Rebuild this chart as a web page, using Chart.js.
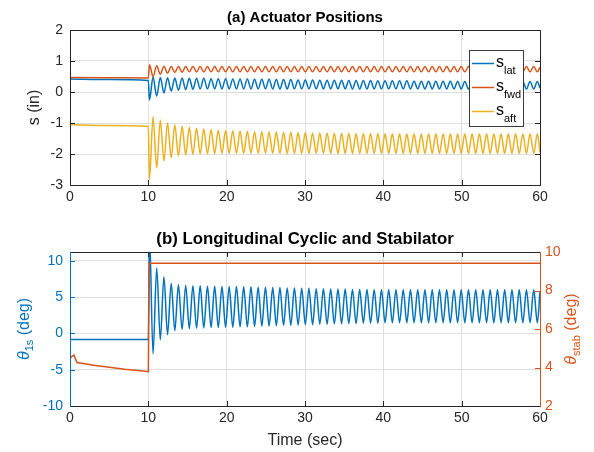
<!DOCTYPE html>
<html><head><meta charset="utf-8">
<script src="https://cdn.jsdelivr.net/npm/chart.js@4.4.1/dist/chart.umd.min.js"></script>
<style>
html,body{margin:0;padding:0;background:#fff;}
#wrap{position:relative;width:594px;height:452px;overflow:hidden;background:#fff;}
canvas{position:absolute;left:0;}
#c1{top:0;}
#c2{top:220px;}
</style></head><body>
<div id="wrap"><canvas id="c1" width="594" height="220"></canvas><canvas id="c2" width="594" height="232"></canvas></div>
<script>
// ---------- DATA ----------
const titleTop = '(a) Actuator Positions';
const titleBottom = '(b) Longitudinal Cyclic and Stabilator';
const xTitle = 'Time (sec)';
const yTitleTop = 's (in)';
const topNames = ['s_lat', 's_fwd', 's_aft'];
const xTicks = [0, 10, 20, 30, 40, 50, 60];
const yTicksTop = [-3, -2, -1, 0, 1, 2];
const yTicksLeft = [-10, -5, 0, 5, 10];
const yTicksRight = [2, 4, 6, 8, 10];

// time before the step (top panel)
const tPreTop = [0, 5, 10.0];
const sLatPre = [0.42, 0.40, 0.37];
const sFwdPre = [0.47, 0.46, 0.45];
const sAftPre = [-1.05, -1.08, -1.11];

// time of the oscillation peaks / troughs after the step
const tOsc = [
10.14,10.60,11.07,11.53,11.99,12.45,12.92,13.38,13.84,14.31,
14.77,15.23,15.69,16.16,16.62,17.08,17.55,18.01,18.47,18.93,
19.40,19.86,20.32,20.78,21.25,21.71,22.17,22.64,23.10,23.56,
24.02,24.49,24.95,25.41,25.88,26.34,26.80,27.26,27.73,28.19,
28.65,29.12,29.58,30.04,30.50,30.97,31.43,31.89,32.35,32.82,
33.28,33.74,34.21,34.67,35.13,35.59,36.06,36.52,36.98,37.45,
37.91,38.37,38.83,39.30,39.76,40.22,40.69,41.15,41.61,42.07,
42.54,43.00,43.46,43.92,44.39,44.85,45.31,45.78,46.24,46.70,
47.16,47.63,48.09,48.55,49.02,49.48,49.94,50.40,50.87,51.33,
51.79,52.26,52.72,53.18,53.64,54.11,54.57,55.03,55.49,55.96,
56.42,56.88,57.35,57.81,58.27,58.73,59.20,59.66,60.00];

const sLatOsc = [
-0.26,0.48,-0.13,0.47,-0.03,0.46,0.03,0.45,0.06,0.45,
0.08,0.44,0.09,0.44,0.10,0.44,0.10,0.43,0.10,0.43,
0.10,0.43,0.10,0.42,0.10,0.42,0.10,0.42,0.10,0.41,
0.10,0.41,0.10,0.41,0.10,0.40,0.10,0.40,0.10,0.40,
0.10,0.39,0.10,0.39,0.10,0.39,0.10,0.38,0.10,0.38,
0.10,0.38,0.10,0.38,0.10,0.37,0.10,0.37,0.10,0.37,
0.10,0.37,0.10,0.36,0.10,0.36,0.10,0.36,0.10,0.36,
0.10,0.36,0.10,0.35,0.10,0.35,0.10,0.35,0.10,0.35,
0.10,0.35,0.10,0.35,0.10,0.34,0.10,0.34,0.10,0.34,
0.10,0.34,0.10,0.34,0.10,0.34,0.10,0.34,0.10,0.34,
0.10,0.34,0.10,0.34,0.10,0.34,0.10,0.34,0.12];

const sFwdOsc = [
0.88,0.50,0.85,0.57,0.83,0.61,0.82,0.63,0.82,0.64,
0.82,0.65,0.82,0.65,0.82,0.65,0.82,0.65,0.82,0.65,
0.82,0.65,0.82,0.65,0.82,0.65,0.82,0.65,0.82,0.65,
0.82,0.65,0.82,0.65,0.82,0.65,0.82,0.65,0.82,0.65,
0.82,0.65,0.82,0.65,0.82,0.65,0.82,0.65,0.82,0.65,
0.82,0.65,0.82,0.65,0.82,0.65,0.82,0.65,0.82,0.65,
0.82,0.65,0.82,0.65,0.82,0.65,0.82,0.65,0.82,0.65,
0.82,0.65,0.82,0.65,0.82,0.65,0.82,0.65,0.82,0.65,
0.82,0.65,0.82,0.65,0.82,0.65,0.82,0.65,0.82,0.65,
0.82,0.65,0.82,0.65,0.82,0.65,0.82,0.65,0.82,0.65,
0.82,0.65,0.82,0.65,0.82,0.65,0.82,0.65,0.80];

const sAftOsc = [
-2.82,-0.80,-2.45,-0.90,-2.23,-1.00,-2.12,-1.06,-2.06,-1.10,
-2.03,-1.14,-2.01,-1.17,-2.00,-1.19,-1.99,-1.21,-1.99,-1.23,
-1.98,-1.24,-1.98,-1.25,-1.98,-1.26,-1.98,-1.27,-1.98,-1.28,
-1.98,-1.28,-1.98,-1.29,-1.98,-1.29,-1.98,-1.30,-1.98,-1.30,
-1.98,-1.31,-1.98,-1.31,-1.98,-1.32,-1.98,-1.32,-1.98,-1.32,
-1.98,-1.33,-1.98,-1.33,-1.98,-1.33,-1.98,-1.34,-1.98,-1.34,
-1.98,-1.34,-1.98,-1.34,-1.98,-1.35,-1.98,-1.35,-1.98,-1.35,
-1.98,-1.35,-1.98,-1.35,-1.98,-1.35,-1.98,-1.35,-1.98,-1.35,
-1.98,-1.35,-1.98,-1.35,-1.98,-1.35,-1.98,-1.35,-1.98,-1.35,
-1.98,-1.35,-1.98,-1.35,-1.98,-1.35,-1.98,-1.35,-1.98,-1.35,
-1.98,-1.35,-1.98,-1.35,-1.98,-1.35,-1.98,-1.35,-1.95];

// bottom panel
const tPreTheta = [0, 5, 10.0];
const theta1sPre = [-0.84, -0.84, -0.85];
const theta1sOsc = [
14.0,-2.8,9.0,-0.9,7.8,-0.2,6.9,0.35,6.7,0.55,
6.6,0.65,6.55,0.7,6.55,0.75,6.5,0.8,6.5,0.8,
6.45,0.85,6.45,0.85,6.45,0.9,6.4,0.9,6.4,0.95,
6.35,1.0,6.35,1.0,6.3,1.05,6.3,1.1,6.25,1.1,
6.25,1.15,6.2,1.2,6.2,1.2,6.15,1.25,6.15,1.25,
6.1,1.3,6.1,1.3,6.1,1.35,6.05,1.35,6.05,1.4,
6.05,1.4,6.0,1.4,6.0,1.45,6.0,1.45,6.0,1.46,
5.99,1.45,6.0,1.46,6.0,1.45,5.99,1.46,6.0,1.45,
6.0,1.46,5.99,1.45,6.0,1.46,6.0,1.45,5.99,1.46,
6.0,1.45,6.0,1.46,5.99,1.45,6.0,1.46,6.0,1.45,
5.99,1.46,6.0,1.45,6.0,1.46,5.99,1.45,5.8];

const tStab = [0, 0.25, 0.5, 0.9, 1.5, 3, 5, 7, 9, 10.0, 10.12, 60];
const thetaStab = [4.47, 4.58, 4.64, 4.26, 4.22, 4.12, 4.01, 3.91, 3.83, 3.78, 9.42, 9.42];

// ---------- STYLE ----------
const FONT = '"Liberation Sans", Arial, Helvetica, sans-serif';
Chart.defaults.font.family = FONT;
const BLUE = '#0072BD', ORANGE = '#D95319', YELLOW = '#EDB120', AXIS = '#262626', GRID = '#dfdfdf';

const pts = (t, v) => t.map((x, i) => ({x: x, y: v[i]}));
const setTicks = arr => (s => { s.ticks = arr.map(v => ({value: v})); });

function rotLabel(ctx, cx, cy, parts, color) {
  ctx.save();
  ctx.translate(cx, cy);
  ctx.rotate(-Math.PI / 2);
  ctx.fillStyle = color;
  ctx.textBaseline = 'middle';
  ctx.textAlign = 'left';
  let total = 0;
  parts.forEach(p => { ctx.font = p.font; p.w = ctx.measureText(p.t).width; total += p.w; });
  let xx = -total / 2;
  parts.forEach(p => { ctx.font = p.font; ctx.fillText(p.t, xx, p.dy); xx += p.w; });
  ctx.restore();
}

function hLine(ctx, x1, x2, y, color) {
  ctx.strokeStyle = color; ctx.beginPath();
  const yy = Math.round(y) + 0.5; ctx.moveTo(x1, yy); ctx.lineTo(x2, yy); ctx.stroke();
}
function vLine(ctx, x, y1, y2, color) {
  ctx.strokeStyle = color; ctx.beginPath();
  const xx = Math.round(x) + 0.5; ctx.moveTo(xx, y1); ctx.lineTo(xx, y2); ctx.stroke();
}

const deco1 = {
  id: 'deco1',
  afterDatasetsDraw(chart) {
    const {ctx, chartArea: a, scales: {x, y}} = chart;
    ctx.save();
    ctx.lineWidth = 1;
    xTicks.forEach(v => { const p = x.getPixelForValue(v); vLine(ctx, p, a.bottom, a.bottom - 5, AXIS); vLine(ctx, p, a.top, a.top + 5, AXIS); });
    yTicksTop.forEach(v => { const p = y.getPixelForValue(v); hLine(ctx, a.left, a.left + 5, p, AXIS); hLine(ctx, a.right, a.right - 5, p, AXIS); });
    hLine(ctx, a.left, a.right + 1, a.top, AXIS);
    hLine(ctx, a.left, a.right + 1, a.bottom, AXIS);
    vLine(ctx, a.left, a.top, a.bottom + 1, AXIS);
    vLine(ctx, a.right, a.top, a.bottom + 1, AXIS);
    // legend
    const lx = 469, ly = 50, lw = 54, lh = 76;
    ctx.fillStyle = '#fff'; ctx.fillRect(lx, ly, lw, lh);
    ctx.strokeStyle = '#3a3a3a'; ctx.strokeRect(lx + 0.5, ly + 0.5, lw, lh);
    const rows = [63.5, 87.5, 111.5];
    topNames.forEach((nm, i) => {
      const [m, s] = nm.split('_');
      const yy = rows[i];
      ctx.strokeStyle = chart.data.datasets[i].borderColor; ctx.lineWidth = 1.5;
      ctx.beginPath(); ctx.moveTo(472, yy); ctx.lineTo(494, yy); ctx.stroke();
      ctx.fillStyle = '#000'; ctx.textBaseline = 'alphabetic'; ctx.textAlign = 'left';
      ctx.font = '16px ' + FONT; ctx.fillText(m, 496, yy + 3);
      const w = ctx.measureText(m).width;
      ctx.font = '11px ' + FONT; ctx.fillText(s, 496 + w, yy + 10);
    });
    ctx.restore();
  }
};

const deco2 = {
  id: 'deco2',
  afterDatasetsDraw(chart) {
    const {ctx, chartArea: a, scales: {x, y, y2}} = chart;
    ctx.save();
    ctx.lineWidth = 1;
    xTicks.forEach(v => { const p = x.getPixelForValue(v); vLine(ctx, p, a.bottom, a.bottom - 5, AXIS); vLine(ctx, p, a.top, a.top + 5, AXIS); });
    yTicksLeft.forEach(v => { const p = y.getPixelForValue(v); hLine(ctx, a.left, a.left + 5, p, BLUE); });
    yTicksRight.forEach(v => { const p = y2.getPixelForValue(v); hLine(ctx, a.right, a.right - 5, p, ORANGE); });
    hLine(ctx, a.left, a.right + 1, a.top, AXIS);
    hLine(ctx, a.left, a.right + 1, a.bottom, AXIS);
    vLine(ctx, a.left, a.top, a.bottom + 1, BLUE);
    vLine(ctx, a.right, a.top, a.bottom + 1, ORANGE);
    const cy = (a.top + a.bottom) / 2;
    rotLabel(ctx, 25, cy, [
      {t: 'θ', font: 'italic 16px ' + FONT, dy: 0},
      {t: '1s', font: '11px ' + FONT, dy: 5},
      {t: ' (deg)', font: '16px ' + FONT, dy: 0}], BLUE);
    rotLabel(ctx, 572, cy, [
      {t: 'θ', font: 'italic 16px ' + FONT, dy: 0},
      {t: 'stab', font: '11px ' + FONT, dy: 5},
      {t: ' (deg)', font: '16px ' + FONT, dy: 0}], ORANGE);
    ctx.restore();
  }
};

const tickFont = {size: 14};
const lineDs = (label, data, color, extra) => Object.assign({
  label: label, data: data, borderColor: color, backgroundColor: color,
  borderWidth: 1.5, pointRadius: 0, fill: false, cubicInterpolationMode: 'monotone'
}, extra || {});

new Chart(document.getElementById('c1'), {
  type: 'line',
  data: {datasets: [
    lineDs(topNames[0], pts(tPreTop, sLatPre).concat(pts(tOsc, sLatOsc)), BLUE, {order: 3}),
    lineDs(topNames[1], pts(tPreTop, sFwdPre).concat(pts(tOsc, sFwdOsc)), ORANGE, {order: 2}),
    lineDs(topNames[2], pts(tPreTop, sAftPre).concat(pts(tOsc, sAftOsc)), YELLOW, {order: 1})
  ]},
  options: {
    responsive: false, animation: false, devicePixelRatio: 1,
    layout: {padding: {left: 0, right: 54, top: 0, bottom: 0}},
    plugins: {
      legend: {display: false}, tooltip: {enabled: false},
      title: {display: true, text: titleTop, fullSize: false, color: '#000',
        font: {size: 15, weight: 'bold'}, padding: {top: 9, bottom: 3}}
    },
    scales: {
      x: {type: 'linear', min: 0, max: 60, afterBuildTicks: setTicks(xTicks),
        ticks: {color: AXIS, font: tickFont, padding: 4, maxRotation: 0, autoSkip: false},
        grid: {color: GRID, drawTicks: false}, border: {display: false},
        afterFit: s => { s.height = 35; }},
      y: {type: 'linear', min: -3, max: 2, afterBuildTicks: setTicks(yTicksTop),
        ticks: {color: AXIS, font: tickFont, padding: 7},
        grid: {color: GRID, drawTicks: false}, border: {display: false},
        title: {display: true, text: yTitleTop, color: AXIS, font: {size: 16}, padding: {top: 25, bottom: 0}},
        afterFit: s => { s.width = 70; }}
    }
  },
  plugins: [deco1]
});

new Chart(document.getElementById('c2'), {
  type: 'line',
  data: {datasets: [
    lineDs('theta_1s', pts(tPreTheta, theta1sPre).concat(pts(tOsc, theta1sOsc)), BLUE, {yAxisID: 'y', order: 2}),
    lineDs('theta_stab', pts(tStab, thetaStab), ORANGE, {yAxisID: 'y2', order: 1, cubicInterpolationMode: 'default', tension: 0})
  ]},
  options: {
    responsive: false, animation: false, devicePixelRatio: 1,
    layout: {padding: 0},
    plugins: {
      legend: {display: false}, tooltip: {enabled: false},
      title: {display: true, text: titleBottom, fullSize: false, color: '#000',
        font: {size: 16.8, weight: 'bold'}, padding: {top: 9, bottom: 2.84}}
    },
    scales: {
      x: {type: 'linear', min: 0, max: 60, afterBuildTicks: setTicks(xTicks),
        ticks: {color: AXIS, font: tickFont, padding: 4, maxRotation: 0, autoSkip: false},
        grid: {color: GRID, drawTicks: false}, border: {display: false},
        title: {display: true, text: xTitle, color: AXIS, font: {size: 16}, padding: {top: 0, bottom: 2}},
        afterFit: s => { s.height = 46; }},
      y: {type: 'linear', position: 'left', min: -10, max: 11.2, afterBuildTicks: setTicks(yTicksLeft),
        ticks: {color: BLUE, font: tickFont, padding: 7},
        grid: {color: GRID, drawTicks: false}, border: {display: false},
        afterFit: s => { s.width = 70; }},
      y2: {type: 'linear', position: 'right', min: 2, max: 10, afterBuildTicks: setTicks(yTicksRight),
        ticks: {color: ORANGE, font: tickFont, padding: 5},
        grid: {drawOnChartArea: false, drawTicks: false}, border: {display: false},
        afterFit: s => { s.width = 54; }}
    }
  },
  plugins: [deco2]
});
</script>
</body></html>
